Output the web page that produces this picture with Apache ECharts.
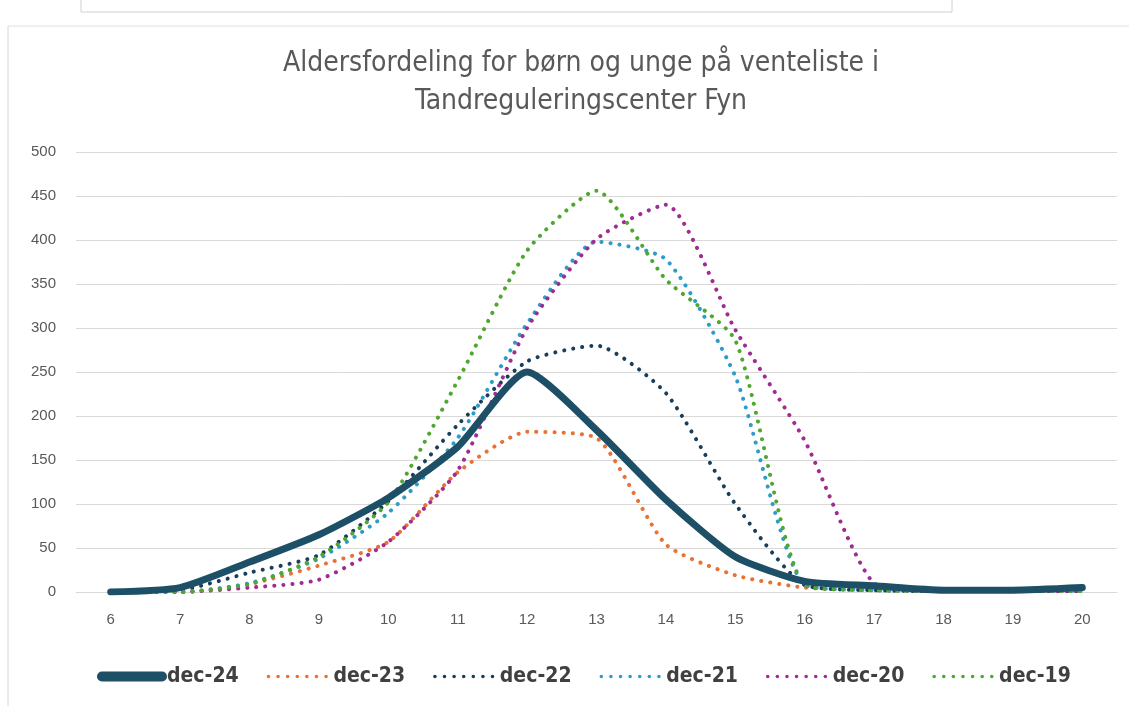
<!DOCTYPE html>
<html>
<head>
<meta charset="utf-8">
<script src="https://cdn.jsdelivr.net/npm/echarts@6/dist/echarts.min.js"></script>
<style>
  html, body { margin: 0; padding: 0; background: #ffffff; }
  #chart { width: 1129px; height: 706px; }
</style>
</head>
<body>
<div id="chart"></div>
<script>
const ages = ['6', '7', '8', '9', '10', '11', '12', '13', '14', '15', '16', '17', '18', '19', '20']
const dec24 = [0, 5, 34, 65, 107, 165, 250, 184, 105, 40, 12, 7, 2, 2, 5]
const dec23 = [0, 0, 9, 30, 57, 136, 182, 175, 54, 19, 5, 2, 1, 1, 1]
const dec22 = [0, 2, 22, 42, 103, 190, 262, 280, 226, 100, 8, 2, 1, 1, 1]
const dec21 = [0, 0, 10, 38, 90, 175, 305, 398, 378, 245, 8, 2, 1, 1, 1]
const dec20 = [0, 0, 5, 14, 57, 138, 300, 401, 440, 298, 172, 10, 1, 1, 1]
const dec19 = [0, 0, 9, 40, 102, 240, 388, 456, 355, 286, 8, 2, 1, 1, 1]

const seriesDefs = [
  { name: 'dec-24', data: dec24, color: '#1d4f66', solid: true },
  { name: 'dec-23', data: dec23, color: '#e97132' },
  { name: 'dec-22', data: dec22, color: '#173f5c' },
  { name: 'dec-21', data: dec21, color: '#2e9cc9' },
  { name: 'dec-20', data: dec20, color: '#a02b93' },
  { name: 'dec-19', data: dec19, color: '#4ea72e' }
]

const narrow = "'Liberation Sans Narrow', 'DejaVu Sans Condensed', sans-serif"

const chart = echarts.init(document.getElementById('chart'))

const option = {
  backgroundColor: '#ffffff',
  animation: false,
  title: {
    text: 'Aldersfordeling for børn og unge på venteliste i\nTandreguleringscenter Fyn',
    left: 576,
    top: 40,
    textAlign: 'center',
    textStyle: {
      fontFamily: narrow,
      fontSize: 28,
      fontWeight: 'normal',
      color: '#595959',
      lineHeight: 38
    }
  },
  graphic: [
    { type: 'rect', shape: { x: 81, y: -2, width: 871, height: 14 }, style: { fill: 'none', stroke: '#d0d0d0', lineWidth: 1 } },
    { type: 'line', shape: { x1: 8, y1: 26, x2: 1129, y2: 26 }, style: { stroke: '#e0e0e0', lineWidth: 1 } },
    { type: 'line', shape: { x1: 8, y1: 26, x2: 8, y2: 706 }, style: { stroke: '#d6d6d6', lineWidth: 1 } }
  ],
  legend: {
    bottom: 14,
    left: 92,
    itemWidth: 60,
    itemHeight: 14,
    itemGap: 28,
    textStyle: {
      fontFamily: narrow,
      fontSize: 21,
      fontWeight: 'bold',
      color: '#404040'
    },
    data: seriesDefs.map((s) => ({
      name: s.name,
      itemStyle: { opacity: 0 },
      lineStyle: s.solid
        ? { width: 10, color: s.color, cap: 'round' }
        : { width: 3.5, color: s.color, type: [0.1, 9.5], cap: 'round' }
    }))
  },
  grid: {
    left: 76,
    right: 12,
    top: 152,
    bottom: 114
  },
  xAxis: {
    type: 'category',
    data: ages,
    boundaryGap: true,
    axisLine: { lineStyle: { color: '#d9d9d9' } },
    axisTick: { show: false },
    axisLabel: {
      fontFamily: 'Liberation Sans',
      fontSize: 15,
      color: '#595959',
      margin: 20
    }
  },
  yAxis: {
    type: 'value',
    min: 0,
    max: 500,
    interval: 50,
    axisLine: { show: false },
    axisTick: { show: false },
    axisLabel: {
      fontFamily: 'Liberation Sans',
      fontSize: 15,
      color: '#595959',
      margin: 20
    },
    splitLine: { lineStyle: { color: '#d9d9d9', width: 1 } }
  },
  series: seriesDefs.map((s) => ({
    name: s.name,
    type: 'line',
    data: s.data,
    smooth: 0.2,
    showSymbol: false,
    symbol: 'none',
    color: s.color,
    lineStyle: s.solid
      ? { width: 7, color: s.color, cap: 'round', join: 'round' }
      : { width: 4, color: s.color, type: [0.1, 9], cap: 'round' },
    z: s.solid ? 3 : 2
  }))
}

chart.setOption(option)
</script>
</body>
</html>
